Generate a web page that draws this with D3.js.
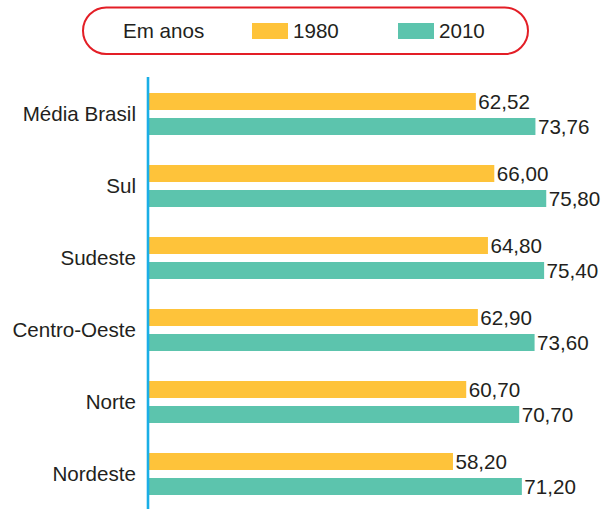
<!DOCTYPE html>
<html>
<head>
<meta charset="utf-8">
<script src="https://cdn.jsdelivr.net/npm/d3@7"></script>
<style>
  html, body { margin: 0; padding: 0; background: #fff; }
  svg { display: block; }
  text { font-family: "Liberation Sans", Arial, Helvetica, sans-serif; fill: #231f20; }
</style>
</head>
<body>
<svg id="chart" width="603" height="509"></svg>
<script>
// Esperança de vida ao nascer, por região (em anos)
const categories = ["Média Brasil", "Sul", "Sudeste", "Centro-Oeste", "Norte", "Nordeste"];
const series = ["1980", "2010"];
const values1980 = [62.52, 66.00, 64.80, 62.90, 60.70, 58.20];
const values2010 = [73.76, 75.80, 75.40, 73.60, 70.70, 71.20];
const legendTitle = "Em anos";

const colors = { "1980": "#fec33a", "2010": "#5cc4ad" };
const fmt = v => d3.format(".2f")(v).replace(".", ",");
const fontSize = 20.6;

const svg = d3.select("#chart");

const rows = categories.map((c, i) => ({
  category: c,
  values: [
    { series: "1980", value: values1980[i] },
    { series: "2010", value: values2010[i] }
  ]
}));

const x = d3.scaleLinear().domain([0, 80]).range([144.5, 568.5]);
const y0 = d3.scaleBand().domain(categories).range([78, 510])
  .paddingInner(30 / 72).paddingOuter(15 / 72);
const y1 = d3.scaleBand().domain(series).range([0, y0.bandwidth()]).paddingInner(0.32);

const axisX = 148;
const barStart = 149;

// Bars and value labels
const groups = svg.append("g").selectAll("g")
  .data(rows).join("g")
  .attr("transform", d => `translate(0,${y0(d.category)})`);

groups.selectAll("rect")
  .data(d => d.values).join("rect")
  .attr("x", barStart)
  .attr("y", d => y1(d.series))
  .attr("width", d => x(d.value) - barStart)
  .attr("height", y1.bandwidth())
  .attr("fill", d => colors[d.series]);

groups.selectAll("text.val")
  .data(d => d.values).join("text")
  .attr("class", "val")
  .attr("x", d => x(d.value) + 2.5)
  .attr("y", d => y1(d.series) + y1.bandwidth() / 2 + 7.5)
  .attr("font-size", fontSize)
  .text(d => fmt(d.value));

// Category axis
const yAxis = d3.axisLeft(y0).tickSize(0).tickPadding(11);
const axisG = svg.append("g").attr("transform", `translate(${axisX - 1},0)`).call(yAxis);
axisG.select(".domain").remove();
axisG.selectAll("text")
  .attr("font-size", fontSize)
  .attr("dy", "0.36em")
  .style("font-family", "'Liberation Sans', Arial, Helvetica, sans-serif")
  .attr("fill", "#231f20");

svg.append("line")
  .attr("x1", axisX).attr("x2", axisX)
  .attr("y1", 77).attr("y2", 509)
  .attr("stroke", "#1aaee6")
  .attr("stroke-width", 2.6);

// Legend
const legend = svg.append("g");
legend.append("rect")
  .attr("x", 83).attr("y", 7.5)
  .attr("width", 445).attr("height", 46.5)
  .attr("rx", 23.25).attr("ry", 23.25)
  .attr("fill", "none")
  .attr("stroke", "#e31e26")
  .attr("stroke-width", 2);

legend.append("text")
  .attr("x", 123).attr("y", 38)
  .attr("font-size", fontSize)
  .text(legendTitle);

const legendPos = { "1980": 252, "2010": 398 };
series.forEach(s => {
  legend.append("rect")
    .attr("x", legendPos[s]).attr("y", 23)
    .attr("width", 36).attr("height", 16)
    .attr("fill", colors[s]);
  legend.append("text")
    .attr("x", legendPos[s] + 41).attr("y", 38)
    .attr("font-size", fontSize)
    .text(s);
});
</script>
</body>
</html>
